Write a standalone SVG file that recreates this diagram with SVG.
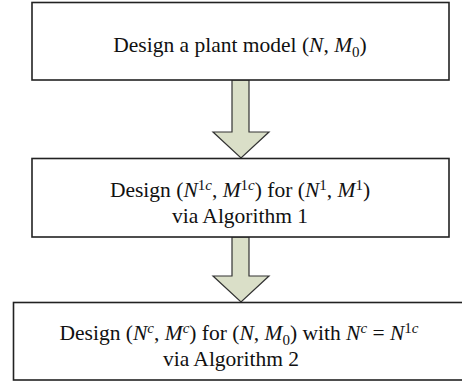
<svg xmlns="http://www.w3.org/2000/svg" width="462" height="383" viewBox="0 0 462 383">
<style>
.box{fill:#fff;stroke:#222;stroke-width:1.6}
.arr{fill:#dadfc8;stroke:#333;stroke-width:1.2;stroke-linejoin:miter}
text{font-family:"Liberation Serif","Times New Roman",serif;font-size:21.5px;fill:#111;text-anchor:middle}
.i{font-style:italic}
.sup{font-size:15px}
</style>
<g id="connectors">
<path class="arr" d="M232,80 L249,80 L249,132 L269,132 L241,158 L213,132 L232,132 Z"/>
<path class="arr" d="M232,237 L249,237 L249,276 L269,276 L241,302 L213,276 L232,276 Z"/>
</g>
<g id="node1">
<rect class="box" x="32" y="2.5" width="417" height="77.5"/>
<text x="240" y="52">Design a plant model (<tspan class="i">N</tspan>, <tspan class="i">M</tspan><tspan class="sup" dy="5">0</tspan><tspan dy="-5">)</tspan></text>
</g>
<g id="node2">
<rect class="box" x="32" y="158.5" width="417" height="78.5"/>
<text x="240" y="197">Design (<tspan class="i">N</tspan><tspan class="sup" dy="-7">1<tspan class="i">c</tspan></tspan><tspan dy="7">, </tspan><tspan class="i">M</tspan><tspan class="sup" dy="-7">1<tspan class="i">c</tspan></tspan><tspan dy="7">) for (</tspan><tspan class="i">N</tspan><tspan class="sup" dy="-7">1</tspan><tspan dy="7">, </tspan><tspan class="i">M</tspan><tspan class="sup" dy="-7">1</tspan><tspan dy="7">)</tspan></text>
<text x="240" y="223">via Algorithm 1</text>
</g>
<g id="node3">
<rect class="box" x="13.5" y="302.5" width="455" height="77.5"/>
<text x="239" y="340">Design (<tspan class="i">N</tspan><tspan class="sup i" dy="-7">c</tspan><tspan dy="7">, </tspan><tspan class="i">M</tspan><tspan class="sup i" dy="-7">c</tspan><tspan dy="7">) for (</tspan><tspan class="i">N</tspan>, <tspan class="i">M</tspan><tspan class="sup" dy="5">0</tspan><tspan dy="-5">) with </tspan><tspan class="i">N</tspan><tspan class="sup i" dy="-7">c</tspan><tspan dy="7"> = </tspan><tspan class="i">N</tspan><tspan class="sup" dy="-7">1<tspan class="i">c</tspan></tspan></text>
<text x="231" y="366">via Algorithm 2</text>
</g>
</svg>
